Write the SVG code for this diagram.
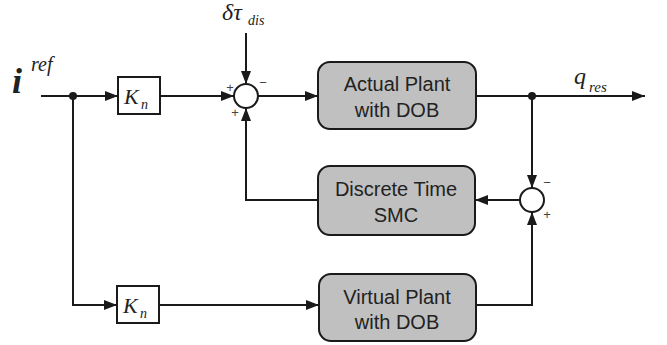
<svg xmlns="http://www.w3.org/2000/svg" width="667" height="345" viewBox="0 0 667 345">
<style>
.ln{fill:none;stroke:#1a1a1a;stroke-width:2}
.blk{fill:#c0c0c0;stroke:#1a1a1a;stroke-width:2}
.gain{fill:#fff;stroke:#1a1a1a;stroke-width:2}
.sum{fill:#fff;stroke:#1a1a1a;stroke-width:2}
.bt{font-family:"Liberation Sans",Arial,sans-serif;font-size:20px;fill:#222;text-anchor:middle}
.m{font-family:"Liberation Serif","Times New Roman",serif;font-style:italic;fill:#222}
.sg{font-family:"Liberation Sans",Arial,sans-serif;font-size:13px;fill:#444;text-anchor:middle}
</style>
<defs>
<marker id="ar" markerUnits="userSpaceOnUse" markerWidth="14" markerHeight="12" viewBox="0 0 14 12" refX="13" refY="6" orient="auto">
<path d="M0,1 L13,6 L0,11 Z" fill="#1a1a1a"/>
</marker>
</defs>
<g id="connectors">
<path class="ln" d="M41,96 H118" marker-end="url(#ar)"/>
<path class="ln" d="M160,96 H234" marker-end="url(#ar)"/>
<path class="ln" d="M246,33 V84" marker-end="url(#ar)"/>
<path class="ln" d="M258,96 H318" marker-end="url(#ar)"/>
<path class="ln" d="M476,96 H645" marker-end="url(#ar)"/>
<path class="ln" d="M532,96 V188" marker-end="url(#ar)"/>
<path class="ln" d="M520,200 H475" marker-end="url(#ar)"/>
<path class="ln" d="M318,200 H246 V108" marker-end="url(#ar)"/>
<path class="ln" d="M73,96 V305 H117" marker-end="url(#ar)"/>
<path class="ln" d="M159,305 H319" marker-end="url(#ar)"/>
<path class="ln" d="M476,305 H532 V212" marker-end="url(#ar)"/>
<circle cx="73" cy="96" r="4" fill="#1a1a1a"/>
<circle cx="532" cy="96" r="4" fill="#1a1a1a"/>
</g>
<g id="iref">
<text class="m" x="12" y="93" font-size="36" font-weight="bold">i</text>
<text class="m" x="31" y="71" font-size="20">ref</text>
</g>
<g id="dtau">
<text class="m" x="222" y="20" font-size="24">δτ</text>
<text class="m" x="248" y="25" font-size="14">dis</text>
</g>
<g id="qres">
<text class="m" x="574" y="84" font-size="24">q</text>
<text class="m" x="589" y="92" font-size="15">res</text>
</g>
<g id="kn1">
<rect class="gain" x="118" y="77" width="42" height="37"/>
<text class="m" x="124" y="104" font-size="22">K</text>
<text class="m" x="141" y="109" font-size="14">n</text>
</g>
<g id="kn2">
<rect class="gain" x="117" y="286" width="42" height="37"/>
<text class="m" x="123" y="313" font-size="22">K</text>
<text class="m" x="140" y="318" font-size="14">n</text>
</g>
<g id="sum1">
<circle class="sum" cx="246" cy="96" r="12"/>
<text class="sg" x="230" y="92">+</text>
<text class="sg" x="263" y="87">−</text>
<text class="sg" x="235" y="117">+</text>
</g>
<g id="sum2">
<circle class="sum" cx="532" cy="200" r="12"/>
<text class="sg" x="547" y="187">−</text>
<text class="sg" x="547" y="219">+</text>
</g>
<g id="actual">
<rect class="blk" x="318" y="62" width="158" height="67" rx="12"/>
<text class="bt" x="397" y="91">Actual Plant</text>
<text class="bt" x="397" y="117">with DOB</text>
</g>
<g id="smc">
<rect class="blk" x="318" y="166" width="157" height="69" rx="12"/>
<text class="bt" x="396" y="196">Discrete Time</text>
<text class="bt" x="396" y="222">SMC</text>
</g>
<g id="virtual">
<rect class="blk" x="319" y="274" width="157" height="67" rx="12"/>
<text class="bt" x="397" y="304">Virtual Plant</text>
<text class="bt" x="397" y="329">with DOB</text>
</g>
</svg>
